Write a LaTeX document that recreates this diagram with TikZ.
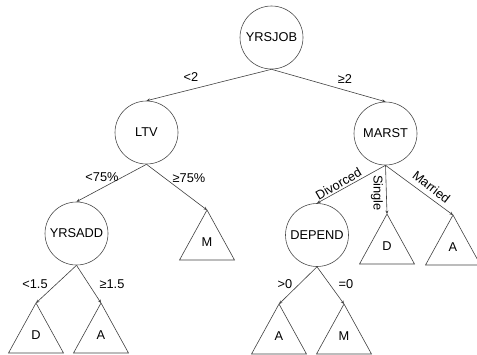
\documentclass[tikz,border=0pt]{standalone}
\usepackage{fontspec}
\setmainfont{Liberation Sans}
\usetikzlibrary{arrows.meta}
\begin{document}
\begin{tikzpicture}[x=1bp, y=-1bp,
  font=\fontsize{12.8bp}{15bp}\selectfont,
  split/.style={circle, draw=black!70, line width=0.6bp, minimum size=63bp, inner sep=0pt},
  branch/.style={draw=black!75, line width=0.6bp, -{Stealth[length=3.5bp,width=3bp]}},
  cond/.style={inner sep=0pt},
  pics/leaf/.style={code={
    \draw[black!75, line width=0.6bp] (0,0) -- (-27.5,50) -- (27.5,50) -- cycle;
    \node[inner sep=0pt] (-txt) at (0,32) {#1};
  }}]
\useasboundingbox (0,0) rectangle (477,354);

% decision nodes
\node[split] (yrsjob) at (271.5,37.5) {YRSJOB};
\node[split] (ltv)    at (146.5,132.5) {LTV};
\node[split] (marst)  at (385.5,133.5) {MARST};
\node[split] (yrsadd) at (76.5,233.5) {YRSADD};
\node[split] (depend) at (317,235) {DEPEND};

% apexes of the leaf triangles
\coordinate (apM1) at (207,210);
\coordinate (apD1) at (36,303);
\coordinate (apA1) at (101,303);
\coordinate (apD2) at (387,214);
\coordinate (apA2) at (453,215);
\coordinate (apA3) at (279,304);
\coordinate (apM2) at (344,304);

% leaves
\pic (lfM1) at (apM1) {leaf=M};
\pic (lfD1) at (apD1) {leaf=D};
\pic (lfA1) at (apA1) {leaf=A};
\pic (lfD2) at (apD2) {leaf=D};
\pic (lfA2) at (apA2) {leaf=A};
\pic (lfA3) at (apA3) {leaf=A};
\pic (lfM2) at (apM2) {leaf=M};

% branches
\draw[branch] (yrsjob.south) -- (ltv.north);
\draw[branch] (yrsjob.south) -- (marst.north);
\draw[branch] (ltv.south) -- (yrsadd.north);
\draw[branch] (ltv.south) -- (apM1);
\draw[branch] (yrsadd.south) -- (apD1);
\draw[branch] (yrsadd.south) -- (apA1);
\draw[branch] (marst.south) -- (depend.north);
\draw[branch] (marst.south) -- (apD2);
\draw[branch] (marst.south) -- (apA2);
\draw[branch] (depend.south) -- (apA3);
\draw[branch] (depend.south) -- (apM2);

% branch conditions
\node[cond] (c1) at (191,77) {<2};
\node[cond] (c2) at (345,79) {≥2};
\node[cond] (c3) at (102,177) {<75\%};
\node[cond] (c4) at (189,178) {≥75\%};
\node[cond] (c5) at (35,284) {<1.5};
\node[cond] (c6) at (112,284) {≥1.5};
\node[cond, rotate=30]  (c7) at (338.5,184) {Divorced};
\node[cond, rotate=-90] (c8) at (377,193) {Single};
\node[cond, rotate=-37.7] (c9) at (431.5,187) {Married};
\node[cond] (c10) at (285,284) {>0};
\node[cond] (c11) at (346,284) {=0};
\end{tikzpicture}
\end{document}
